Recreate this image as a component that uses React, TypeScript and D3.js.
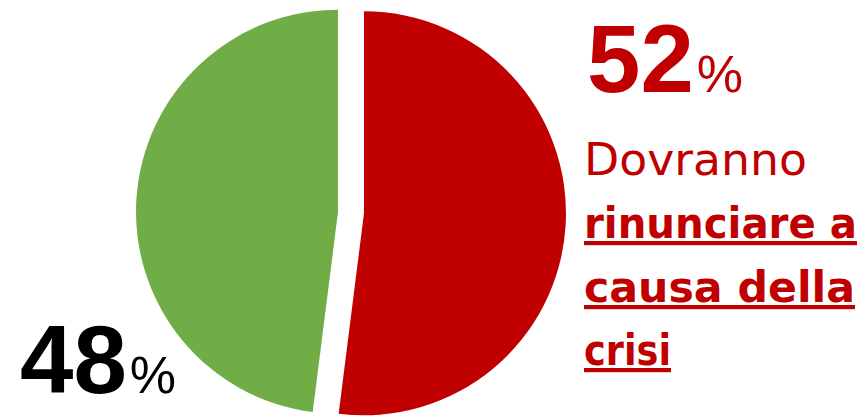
import React from "react";
import * as d3 from "d3";

const categories = ["Dovranno rinunciare a causa della crisi", "Altro"];
const values = [52, 48];
const colors = ["#C00000", "#70AD47"];
const labelValues = ["52", "48"];
const textLines = ["Dovranno", "rinunciare a", "causa della", "crisi"];

const W = 864;
const H = 417;

export default function App() {
  const cx = 351;
  const cy = 212.5;
  const R = 202;
  const explode = 13;
  const pie = d3.pie<number>().sort(null).startAngle(0).endAngle(2 * Math.PI);
  const arcs = pie(values);
  const arcGen = d3.arc<d3.PieArcDatum<number>>().innerRadius(0).outerRadius(R);

  return (
    <svg
      width={W}
      height={H}
      style={{ position: "absolute", left: 0, top: 0, background: "#fff" }}
    >
      <g transform={`translate(${cx},${cy})`}>
        {arcs.map((a, i) => {
          const mid = (a.startAngle + a.endAngle) / 2;
          const dx = Math.sin(mid) * explode;
          const dy = -Math.cos(mid) * explode;
          return (
            <path
              key={categories[i]}
              d={arcGen(a) || ""}
              fill={colors[i]}
              transform={`translate(${dx},${dy})`}
            />
          );
        })}
      </g>
      <text x={587} y={92} fill="#C00000" fontFamily="Liberation Sans, Arial, sans-serif" fontWeight="bold">
        <tspan fontSize={96}>{labelValues[0]}</tspan>
        <tspan fontSize={52} fontWeight="normal" dx={3}>%</tspan>
      </text>
      <text x={20} y={393} fill="#000" fontFamily="Liberation Sans, Arial, sans-serif" fontWeight="bold">
        <tspan fontSize={96}>{labelValues[1]}</tspan>
        <tspan fontSize={52} fontWeight="normal" dx={3}>%</tspan>
      </text>
      <g fill="#C00000" fontFamily="DejaVu Sans, sans-serif">
        <text x={584} y={175} fontSize={45} textLength={223} lengthAdjust="spacingAndGlyphs">{textLines[0]}</text>
        <text x={584} y={238} fontSize={42} fontWeight="bold" textDecoration="underline" textLength={273} lengthAdjust="spacingAndGlyphs">{textLines[1]}</text>
        <text x={584} y={302} fontSize={42} fontWeight="bold" textDecoration="underline" textLength={271} lengthAdjust="spacingAndGlyphs">{textLines[2]}</text>
        <text x={584} y={365} fontSize={42} fontWeight="bold" textDecoration="underline" textLength={87} lengthAdjust="spacingAndGlyphs">{textLines[3]}</text>
      </g>
    </svg>
  );
}
